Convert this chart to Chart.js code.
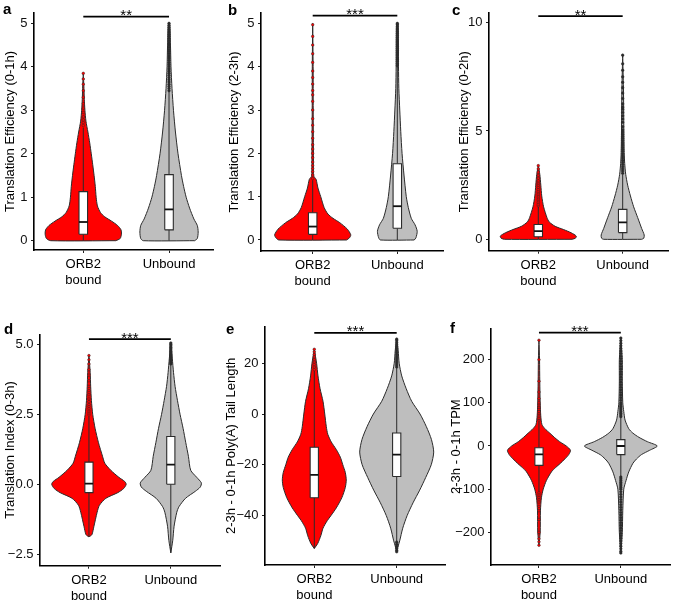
<!DOCTYPE html>
<html><head><meta charset="utf-8">
<script src="https://cdn.jsdelivr.net/npm/chart.js@4.4.1/dist/chart.umd.min.js"></script>
<style>
html,body{margin:0;padding:0;background:#fff;}
#wrap{position:relative;width:675px;height:602px;overflow:hidden;background:#fff;}
canvas{position:absolute;}
.lbl{position:absolute;font-family:"Liberation Sans",Arial,sans-serif;font-weight:bold;font-size:15px;line-height:15px;color:#000;}
</style></head><body>
<div id="wrap">
<canvas id="cA" width="225" height="300" style="left:0;top:0"></canvas>
<canvas id="cB" width="225" height="300" style="left:225px;top:0"></canvas>
<canvas id="cC" width="225" height="300" style="left:450px;top:0"></canvas>
<canvas id="cD" width="225" height="302" style="left:0;top:300px"></canvas>
<canvas id="cE" width="225" height="302" style="left:225px;top:300px"></canvas>
<canvas id="cF" width="225" height="302" style="left:450px;top:300px"></canvas>
<div class="lbl" style="left:3px;top:1px">a</div>
<div class="lbl" style="left:228px;top:2px">b</div>
<div class="lbl" style="left:452px;top:2px">c</div>
<div class="lbl" style="left:4px;top:321px">d</div>
<div class="lbl" style="left:226px;top:321px">e</div>
<div class="lbl" style="left:450px;top:320px">f</div>
</div>
<script>
// ---------- DATA ----------
const categories = [['ORB2', 'bound'], 'Unbound'];

// Panel a
const aTitle = 'Translation Efficiency (0-1h)';
const aTicks = [0, 1, 2, 3, 4, 5];
const aTickLabels = ['0', '1', '2', '3', '4', '5'];
const aStars = '**';
const aBar = 5.153;
const aOrbY = [0, 0.05, 0.15, 0.25, 0.35, 0.45, 0.55, 0.65, 0.8, 1.0, 1.25, 1.5, 1.75, 2.0, 2.25, 2.5, 2.75, 3.0, 3.25, 3.5, 3.85];
const aOrbW = [0.38, 0.43, 0.445, 0.44, 0.40, 0.33, 0.25, 0.20, 0.165, 0.15, 0.14, 0.126, 0.11, 0.093, 0.075, 0.054, 0.031, 0.019, 0.012, 0.008, 0];
const aUnbY = [0, 0.05, 0.2, 0.35, 0.5, 0.75, 1.0, 1.25, 1.5, 2.0, 2.5, 3.0, 3.5, 4.0, 4.5, 5.0];
const aUnbW = [0.30, 0.33, 0.34, 0.33, 0.29, 0.24, 0.20, 0.17, 0.145, 0.105, 0.075, 0.052, 0.035, 0.023, 0.017, 0.008];
const aOrbBox = [0, 0.15, 0.43, 1.13, 2.6];
const aUnbBox = [0, 0.25, 0.72, 1.52, 3.43];
const aOrbOut = [2.65, 2.72, 2.78, 2.85, 2.95, 3.05, 3.15, 3.3, 3.45, 3.6, 3.72, 3.85];
const aUnbOut = [3.45, 3.5, 3.55, 3.6, 3.65, 3.7, 3.75, 3.8, 3.85, 3.9, 3.95, 4.0, 4.05, 4.1, 4.15, 4.2, 4.25, 4.3, 4.35, 4.4, 4.45, 4.5, 4.55, 4.6, 4.65, 4.7, 4.75, 4.8, 4.85, 4.9, 4.95, 5.0];

// Panel b
const bTitle = 'Translation Efficiency (2-3h)';
const bTicks = [0, 1, 2, 3, 4, 5];
const bTickLabels = ['0', '1', '2', '3', '4', '5'];
const bStars = '***';
const bBar = 5.18;
const bOrbY = [0, 0.05, 0.12, 0.25, 0.4, 0.5, 0.6, 0.75, 1.0, 1.2, 1.4, 1.48, 2.0, 2.5, 3.0, 4.0, 5.0];
const bOrbW = [0.40, 0.435, 0.45, 0.41, 0.32, 0.24, 0.18, 0.135, 0.095, 0.062, 0.04, 0.012, 0.009, 0.007, 0.006, 0.005, 0];
const bUnbY = [0, 0.05, 0.2, 0.35, 0.5, 0.75, 1.0, 1.5, 2.0, 2.5, 3.0, 3.5, 4.0, 5.0];
const bUnbW = [0.20, 0.22, 0.235, 0.21, 0.165, 0.13, 0.106, 0.079, 0.056, 0.041, 0.029, 0.018, 0.014, 0.009];
const bOrbBox = [0, 0.13, 0.31, 0.63, 1.38];
const bUnbBox = [0, 0.27, 0.78, 1.76, 4.0];
const bOrbOut = [1.42, 1.5, 1.58, 1.65, 1.72, 1.8, 1.9, 2.0, 2.1, 2.2, 2.35, 2.5, 2.65, 2.8, 3.0, 3.2, 3.35, 3.45, 3.6, 3.75, 3.9, 4.1, 4.3, 4.5, 4.7, 4.97];
const bUnbOut = [4.02, 4.07, 4.12, 4.17, 4.22, 4.27, 4.32, 4.37, 4.42, 4.47, 4.52, 4.57, 4.62, 4.67, 4.72, 4.77, 4.82, 4.87, 4.92, 4.97, 5.0];

// Panel c
const cTitle = 'Translation Efficiency (0-2h)';
const cTicks = [0, 5, 10];
const cTickLabels = ['0', '5', '10'];
const cStars = '**';
const cBar = 10.3;
const cOrbY = [0, 0.05, 0.15, 0.3, 0.45, 0.6, 0.8, 1.0, 1.5, 2.0, 2.5, 3.0, 3.4];
const cOrbW = [0.40, 0.44, 0.45, 0.39, 0.30, 0.20, 0.13, 0.103, 0.063, 0.041, 0.030, 0.018, 0];
const cUnbY = [0, 0.05, 0.2, 0.5, 1.0, 1.5, 2.0, 2.5, 3.0, 3.5, 4.0, 5.0, 6.0, 7.0, 8.5];
const cUnbW = [0.225, 0.25, 0.255, 0.225, 0.178, 0.13, 0.092, 0.059, 0.036, 0.024, 0.018, 0.014, 0.012, 0.009, 0];
const cOrbBox = [0, 0.12, 0.38, 0.68, 1.52];
const cUnbBox = [0, 0.31, 0.78, 1.38, 3.0];
const cOrbOut = [1.55, 1.62, 1.7, 1.78, 1.85, 1.92, 2.0, 2.08, 2.15, 2.22, 2.3, 2.4, 2.5, 2.6, 2.7, 2.82, 2.95, 3.1, 3.25, 3.4];
const cUnbOut = [3.05, 3.15, 3.25, 3.35, 3.45, 3.55, 3.65, 3.75, 3.85, 3.95, 4.05, 4.15, 4.25, 4.35, 4.45, 4.55, 4.65, 4.75, 4.85, 4.95, 5.05, 5.2, 5.4, 5.55, 5.7, 5.85, 6.0, 6.1, 6.25, 6.5, 6.75, 7.0, 7.25, 7.5, 7.8, 8.1, 8.5];

// Panel d
const dTitle = 'Translation Index (0-3h)';
const dTicks = [-2.5, 0, 2.5, 5];
const dTickLabels = ['\u22122.5', '0.0', '2.5', '5.0'];
const dStars = '***';
const dBar = 5.19;
const dOrbY = [-1.88, -1.8, -1.5, -1.0, -0.75, -0.5, -0.3, -0.15, 0, 0.1, 0.25, 0.5, 0.75, 1.0, 1.5, 2.0, 2.5, 3.0, 3.5, 4.0, 4.6];
const dOrbW = [0, 0.036, 0.061, 0.10, 0.128, 0.207, 0.352, 0.425, 0.455, 0.437, 0.365, 0.267, 0.194, 0.166, 0.115, 0.075, 0.046, 0.03, 0.021, 0.015, 0];
const dUnbY = [-2.45, -2.0, -1.5, -1.0, -0.8, -0.5, -0.25, -0.1, 0.05, 0.25, 0.5, 1.0, 1.5, 2.0, 2.5, 3.0, 3.5, 4.0, 4.5, 5.05];
const dUnbW = [0, 0.024, 0.04, 0.073, 0.1, 0.18, 0.30, 0.36, 0.373, 0.316, 0.243, 0.215, 0.182, 0.15, 0.113, 0.081, 0.052, 0.033, 0.018, 0];
const dOrbBox = [-1.88, -0.3, 0.02, 0.79, 2.43];
const dUnbBox = [-2.45, 0.0, 0.70, 1.71, 4.28];
const dOrbOut = [2.48, 2.55, 2.62, 2.7, 2.78, 2.85, 2.95, 3.05, 3.2, 3.35, 3.5, 3.7, 3.9, 4.1, 4.3, 4.45, 4.6];
const dUnbOut = [4.3, 4.35, 4.4, 4.45, 4.5, 4.55, 4.6, 4.65, 4.7, 4.75, 4.8, 4.85, 4.9, 4.95, 5.0, 5.05];

// Panel e
const eTitle = '2-3h - 0-1h Poly(A) Tail Length';
const eTicks = [-40, -20, 0, 20];
const eTickLabels = ['\u221240', '\u221220', '0', '20'];
const eStars = '***';
const eBar = 32.0;
const eOrbY = [-53, -51, -48, -45, -42, -40, -37, -33, -29, -26, -23, -20, -17, -14, -11, -8, -5, 0, 5, 10, 15, 20, 25.5];
const eOrbW = [0, 0.042, 0.079, 0.106, 0.158, 0.203, 0.267, 0.334, 0.376, 0.388, 0.376, 0.346, 0.316, 0.267, 0.206, 0.164, 0.146, 0.127, 0.106, 0.07, 0.045, 0.028, 0];
const eUnbY = [-54, -50, -45, -40, -35, -30, -25, -20, -15, -10, -5, 0, 5, 10, 15, 20, 25, 29.5];
const eUnbW = [0, 0.036, 0.073, 0.127, 0.198, 0.279, 0.352, 0.419, 0.449, 0.421, 0.36, 0.283, 0.182, 0.115, 0.061, 0.03, 0.018, 0];
const eOrbBox = [-53, -33, -24, -13.1, 17];
const eUnbBox = [-50.2, -24.6, -16, -7.5, 18.1];
const eOrbOut = [17.5, 18.5, 19.5, 20.5, 21.5, 22.5, 23.5, 24.5, 25.5];
const eUnbOut = [18.5, 19.3, 20.1, 20.9, 21.7, 22.5, 23.3, 24.1, 24.9, 25.7, 26.5, 27.3, 28.1, 28.9, 29.5, -50.5, -51.3, -52.1, -52.9, -53.7, -54.3];

// Panel f
const fTitle = '2-3h - 0-1h TPM';
const fTicks = [-200, -100, 0, 100, 200];
const fTickLabels = ['\u2212200', '\u2212100', '0', '100', '200'];
const fStars = '***';
const fBar = 262.5;
const fOrbY = [-230, -200, -150, -120, -100, -80, -60, -50, -40, -30, -20, -10, 0, 10, 20, 30, 40, 50, 70, 100, 150, 200, 245];
const fOrbW = [0, 0.015, 0.018, 0.03, 0.052, 0.091, 0.152, 0.203, 0.263, 0.316, 0.364, 0.385, 0.334, 0.252, 0.188, 0.131, 0.073, 0.036, 0.022, 0.015, 0.01, 0.007, 0];
const fUnbY = [-248, -200, -150, -100, -80, -60, -40, -30, -20, -10, 0, 10, 20, 30, 40, 60, 80, 100, 150, 200, 250];
const fUnbW = [0, 0.018, 0.024, 0.036, 0.064, 0.097, 0.148, 0.192, 0.252, 0.352, 0.445, 0.324, 0.222, 0.146, 0.097, 0.052, 0.036, 0.024, 0.018, 0.018, 0];
const fOrbBox = [-106, -45, -19.5, -4, 57];
const fUnbBox = [-72, -20, 0, 14.7, 66.7];
const fOrbOut = [60, 64, 68, 72, 76, 80, 85, 90, 95, 100, 110, 125, 150, 200, 245, -108, -112, -116, -120, -125, -130, -140, -150, -170, -200, -215, -222, -230];
const fUnbOut = [68, 72, 76, 80, 84, 88, 92, 96, 100, 106, 112, 118, 124, 130, 136, 142, 148, 154, 160, 166, 172, 178, 184, 190, 196, 202, 208, 214, 220, 226, 232, 238, 244, 250,
  -72, -76, -80, -84, -88, -92, -96, -100, -106, -112, -118, -124, -130, -136, -142, -148, -154, -160, -166, -172, -178, -184, -190, -196, -202, -208, -214, -220, -226, -232, -238, -244, -248];

// ---------- LAYOUT / STYLE ----------
const FONT = '"Liberation Sans", Arial, sans-serif';
const RED = '#FF0000', GREY = '#BEBEBE', OUTLINE = '#2b2b2b';
const BOX_HALF = 0.05;
Chart.defaults.font.family = FONT;

const layouts = {
  cA: {w: 225, h: 300, left: 34, top: 13, right: 213, bottom: 250, tc: 10, x: [0.425, 2.513], y: [-0.214, 5.238]},
  cB: {w: 225, h: 300, left: 36, top: 13, right: 218, bottom: 251, tc: 9.5, x: [0.389, 2.54], y: [-0.254, 5.24]},
  cC: {w: 225, h: 300, left: 39, top: 12.7, right: 218, bottom: 250.7, tc: 14, x: [0.416, 2.537], y: [-0.526, 10.46]},
  cD: {w: 225, h: 302, left: 40, top: 34.3, right: 221.7, bottom: 265.7, tc: 10, x: [0.402, 2.607], y: [-2.91, 5.36]},
  cE: {w: 225, h: 302, left: 40, top: 26.7, right: 220, bottom: 265, tc: 6.5, x: [0.402, 2.586], y: [-59.5, 34.4]},
  cF: {w: 225, h: 302, left: 41, top: 28.3, right: 221.7, bottom: 265, tc: 6.7, x: [0.414, 2.607], y: [-275.7, 272.6]}
};

function violin(center, ys, ws) {
  const pts = [];
  for (let i = 0; i < ys.length; i++) pts.push({x: center + ws[i], y: ys[i]});
  for (let i = ys.length - 1; i >= 0; i--) pts.push({x: center - ws[i], y: ys[i]});
  pts.push({x: center + ws[0], y: ys[0]});
  return pts;
}
function boxRect(c, b) {
  return [{x: c - BOX_HALF, y: b[1]}, {x: c + BOX_HALF, y: b[1]}, {x: c + BOX_HALF, y: b[3]}, {x: c - BOX_HALF, y: b[3]}, {x: c - BOX_HALF, y: b[1]}];
}
function whiskers(c, b) {
  return [{x: c, y: b[0]}, {x: c, y: b[1]}, {x: c, y: null}, {x: c, y: b[3]}, {x: c, y: b[4]}];
}
function median(c, b) {
  return [{x: c - BOX_HALF, y: b[2]}, {x: c + BOX_HALF, y: b[2]}];
}
function outliers(c, arr) { return arr.map(v => ({x: c, y: v})); }

const starsPlugin = {
  id: 'stars',
  afterDatasetsDraw(chart, args, opts) {
    const {ctx, scales} = chart;
    ctx.save();
    ctx.font = '15px ' + FONT;
    ctx.fillStyle = '#000';
    ctx.textAlign = 'center';
    ctx.textBaseline = 'alphabetic';
    ctx.fillText(opts.text, scales.x.getPixelForValue(1.5), scales.y.getPixelForValue(opts.bar) + 3.5);
    ctx.restore();
  }
};

function makePanel(id, d) {
  const L = layouts[id];
  const padLeft = Math.max(L.tc - 6.5, 0);
  const datasets = [
    {data: violin(1, d.orbY, d.orbW), fill: 'shape', backgroundColor: RED, borderColor: OUTLINE, borderWidth: 1, tension: 0.25, pointRadius: 0, order: 10},
    {data: violin(2, d.unbY, d.unbW), fill: 'shape', backgroundColor: GREY, borderColor: OUTLINE, borderWidth: 1, tension: 0.25, pointRadius: 0, order: 10},
    {data: whiskers(1, d.orbBox), borderColor: OUTLINE, borderWidth: 1, pointRadius: 0, order: 6},
    {data: whiskers(2, d.unbBox), borderColor: OUTLINE, borderWidth: 1, pointRadius: 0, order: 6},
    {data: outliers(1, d.orbOut), showLine: false, pointRadius: 1.3, pointBackgroundColor: RED, pointBorderColor: OUTLINE, pointBorderWidth: 0.5, order: 5},
    {data: outliers(2, d.unbOut), showLine: false, pointRadius: 1.3, pointBackgroundColor: OUTLINE, pointBorderColor: OUTLINE, pointBorderWidth: 0.5, order: 5},
    {data: boxRect(1, d.orbBox), fill: 'shape', backgroundColor: '#FFFFFF', borderColor: OUTLINE, borderWidth: 1.1, pointRadius: 0, order: 4},
    {data: boxRect(2, d.unbBox), fill: 'shape', backgroundColor: '#FFFFFF', borderColor: OUTLINE, borderWidth: 1.1, pointRadius: 0, order: 4},
    {data: median(1, d.orbBox), borderColor: '#111', borderWidth: 1.8, pointRadius: 0, order: 3},
    {data: median(2, d.unbBox), borderColor: '#111', borderWidth: 1.8, pointRadius: 0, order: 3},
    {data: [{x: 1, y: d.bar}, {x: 2, y: d.bar}], borderColor: '#000', borderWidth: 1.8, pointRadius: 0, order: 1}
  ];
  new Chart(document.getElementById(id), {
    type: 'line',
    data: {datasets},
    plugins: [starsPlugin],
    options: {
      responsive: false,
      animation: false,
      events: [],
      layout: {padding: {left: padLeft, top: L.top, right: L.w - L.right, bottom: 0}},
      plugins: {legend: {display: false}, tooltip: {enabled: false}, stars: {text: d.stars, bar: d.bar}},
      scales: {
        x: {
          type: 'linear', min: L.x[0], max: L.x[1],
          afterBuildTicks: s => { s.ticks = [{value: 1}, {value: 2}]; },
          afterFit: s => { s.height = L.h - L.bottom; },
          ticks: {autoSkip: false, maxRotation: 0, padding: 4, color: '#000', font: {size: 13},
            callback: v => (v === 1 ? categories[0] : categories[1])},
          grid: {display: true, drawOnChartArea: false, drawTicks: true, tickLength: 3, color: '#222', lineWidth: 1},
          border: {display: true, color: '#000', width: 1.6}
        },
        y: {
          type: 'linear', min: L.y[0], max: L.y[1],
          afterBuildTicks: s => { s.ticks = d.ticks.map(v => ({value: v})); },
          afterFit: s => { s.width = L.left - padLeft; },
          ticks: {autoSkip: false, padding: 3.5, color: '#111', font: {size: 13},
            callback: (v, i) => d.tickLabels[i]},
          grid: {display: true, drawOnChartArea: false, drawTicks: true, tickLength: 3, color: '#222', lineWidth: 1},
          border: {display: true, color: '#000', width: 1.6},
          title: {display: true, text: d.title, color: '#000', font: {size: 13, lineHeight: 1}, padding: {top: 0, bottom: 0}}
        }
      }
    }
  });
}

makePanel('cA', {title: aTitle, ticks: aTicks, tickLabels: aTickLabels, stars: aStars, bar: aBar, orbY: aOrbY, orbW: aOrbW, unbY: aUnbY, unbW: aUnbW, orbBox: aOrbBox, unbBox: aUnbBox, orbOut: aOrbOut, unbOut: aUnbOut});
makePanel('cB', {title: bTitle, ticks: bTicks, tickLabels: bTickLabels, stars: bStars, bar: bBar, orbY: bOrbY, orbW: bOrbW, unbY: bUnbY, unbW: bUnbW, orbBox: bOrbBox, unbBox: bUnbBox, orbOut: bOrbOut, unbOut: bUnbOut});
makePanel('cC', {title: cTitle, ticks: cTicks, tickLabels: cTickLabels, stars: cStars, bar: cBar, orbY: cOrbY, orbW: cOrbW, unbY: cUnbY, unbW: cUnbW, orbBox: cOrbBox, unbBox: cUnbBox, orbOut: cOrbOut, unbOut: cUnbOut});
makePanel('cD', {title: dTitle, ticks: dTicks, tickLabels: dTickLabels, stars: dStars, bar: dBar, orbY: dOrbY, orbW: dOrbW, unbY: dUnbY, unbW: dUnbW, orbBox: dOrbBox, unbBox: dUnbBox, orbOut: dOrbOut, unbOut: dUnbOut});
makePanel('cE', {title: eTitle, ticks: eTicks, tickLabels: eTickLabels, stars: eStars, bar: eBar, orbY: eOrbY, orbW: eOrbW, unbY: eUnbY, unbW: eUnbW, orbBox: eOrbBox, unbBox: eUnbBox, orbOut: eOrbOut, unbOut: eUnbOut});
makePanel('cF', {title: fTitle, ticks: fTicks, tickLabels: fTickLabels, stars: fStars, bar: fBar, orbY: fOrbY, orbW: fOrbW, unbY: fUnbY, unbW: fUnbW, orbBox: fOrbBox, unbBox: fUnbBox, orbOut: fOrbOut, unbOut: fUnbOut});
</script>
</body></html>
